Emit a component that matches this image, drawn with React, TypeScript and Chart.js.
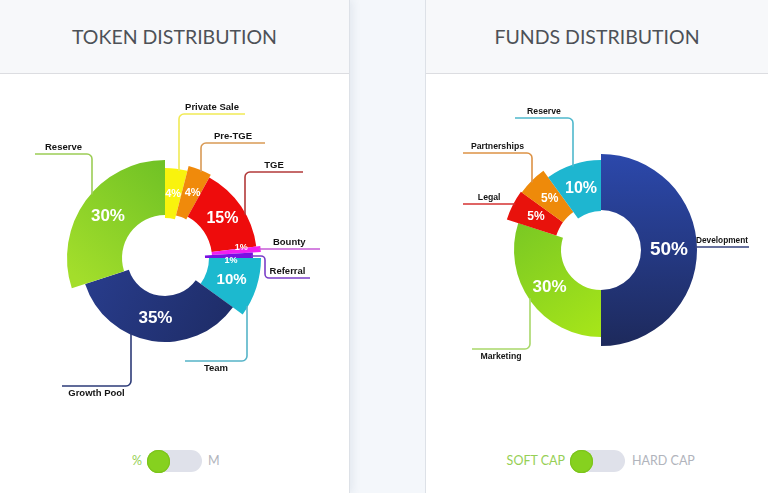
import React, { useEffect, useRef } from 'react';
import { Chart, registerables } from 'chart.js';

Chart.register(...registerables);

// ---------- data ----------
const tokenCategories = ['Private Sale', 'Pre-TGE', 'TGE', 'Bounty', 'Referral', 'Team', 'Growth Pool', 'Reserve'];
const tokenValues = [4, 4, 15, 1, 1, 10, 35, 30];

const fundsCategories = ['Development', 'Marketing', 'Legal', 'Partnerships', 'Reserve'];
const fundsValues = [50, 30, 5, 5, 10];

// ---------- styles ----------
const tokenFills = [
  ['#f9f30d', '#f9f30d'],
  ['#f08a0b', '#f08a0b'],
  ['#ee0c0c', '#ee0c0c'],
  ['#f21ff0', '#f21ff0'],
  ['#7a0fe3', '#7a0fe3'],
  ['#1cb9cf', '#1cb9cf'],
  ['#2a3f92', '#1e2c66'],
  ['#a3de2b', '#6fc125'],
];
const tokenGradDirs = [
  [0, -1, 0, 1], [0, -1, 0, 1], [0, -1, 0, 1], [0, -1, 0, 1],
  [0, -1, 0, 1], [0, -1, 0, 1], [-1, 0, 0.6, 0.9], [-1, 0.1, 0, -1],
];
const tokenRadii = [[40, 90], [44, 95], [47, 92], [47, 96], [40, 88], [44, 96], [38, 84], [43, 98]];
const tokenLabelSizes = [11, 11, 16, 9, 9, 15, 17, 17];
const tokenLabelNudges = [[0, 0], [2, 0], [0, 0], [5, -4], [2, 5], [0, 0], [0, 0], [0, 0]];
const tokenLeaderColors = ['#f1ea55', '#d99a55', '#b23a3a', '#c65ad6', '#7a3ec8', '#56b4c8', '#2d3b78', '#9ccd55'];
const tokenLeaders = [
  { kind: 'up', dx: 14, ey: -144, ex: 80, pos: 'above' },
  { kind: 'up', dx: 36, ey: -115, ex: 100, pos: 'above' },
  { kind: 'up', dx: 80, ey: -86, ex: 138, pos: 'above' },
  { kind: 'h', dy: -9, ex: 155, pos: 'above' },
  { kind: 'knee', dy: -2, kx: 100, ey: 20, ex: 145, pos: 'above' },
  { kind: 'down', dx: 82, ey: 103, ex: 20, pos: 'below' },
  { kind: 'down', dx: -34, ey: 128, ex: -103, pos: 'below' },
  { kind: 'up', dx: -73, ey: -104, ex: -130, pos: 'above' },
];

const fundsFills = [
  ['#2c49ad', '#1d295a'],
  ['#78c724', '#abe818'],
  ['#e8120c', '#e8120c'],
  ['#ee8a0a', '#ee8a0a'],
  ['#1eb6d0', '#1eb6d0'],
];
const fundsGradDirs = [[0, -1, 0, 1], [-0.9, -0.3, 0, 1], [0, -1, 0, 1], [0, -1, 0, 1], [0, -1, 0, 1]];
const fundsRadii = [[40, 96], [40, 87], [47, 99], [47, 98], [39, 90]];
const fundsLabelSizes = [19, 17, 12, 12, 16];
const fundsLabelNudges = [[0, 0], [0, 0], [0, 0], [0, 0], [0, 0]];
const fundsLeaderColors = ['#34427e', '#a9d86a', '#d43030', '#dd9245', '#4fb8cc'];
const fundsLeaders = [
  { kind: 'h', dy: -3, ex: 148, pos: 'above' },
  { kind: 'down', dx: -71, ey: 99, ex: -129, pos: 'below' },
  { kind: 'h', dy: -46, ex: -138, pos: 'above' },
  { kind: 'up', dx: -69, ey: -97, ex: -138, pos: 'above' },
  { kind: 'up', dx: -28, ey: -132, ex: -86, pos: 'above' },
];

// ---------- plugins ----------
const radiusPlugin = {
  id: 'segRadii',
  afterDatasetsUpdate(chart: any, _args: any, opts: any) {
    const meta = chart.getDatasetMeta(0);
    meta.data.forEach((arc: any, i: number) => {
      const r = opts.radii[i];
      if (r) {
        arc.innerRadius = r[0];
        arc.outerRadius = r[1];
      }
    });
  },
};

const leaderPlugin = {
  id: 'leaders',
  afterDatasetsDraw(chart: any, _args: any, opts: any) {
    const meta = chart.getDatasetMeta(0);
    const ctx: CanvasRenderingContext2D = chart.ctx;
    const labels: string[] = chart.data.labels;
    const values: number[] = chart.data.datasets[0].data;
    ctx.save();
    meta.data.forEach((arc: any, i: number) => {
      const cx = arc.x;
      const cy = arc.y;
      const R = arc.outerRadius;
      const L = opts.items[i];
      // percentage text
      const p = arc.getCenterPoint();
      const nudge = opts.nudges[i] || [0, 0];
      ctx.fillStyle = '#ffffff';
      ctx.font = `bold ${opts.sizes[i]}px "Liberation Sans", Arial, sans-serif`;
      ctx.textAlign = 'center';
      ctx.textBaseline = 'middle';
      ctx.fillText(`${values[i]}%`, p.x + nudge[0], p.y + nudge[1]);
      if (!L) return;
      // leader line
      ctx.strokeStyle = opts.colors[i];
      ctx.lineWidth = 1.6;
      ctx.beginPath();
      let hx0 = 0;
      let hy = 0;
      const xEnd = cx + L.ex;
      if (L.kind === 'up' || L.kind === 'down') {
        const x0 = cx + L.dx;
        const s = Math.sqrt(Math.max(R * R - L.dx * L.dx, 0)) - 2;
        const y0 = L.kind === 'up' ? cy - s : cy + s;
        hy = cy + L.ey;
        hx0 = x0;
        ctx.moveTo(x0, y0);
        ctx.arcTo(x0, hy, xEnd, hy, 5);
        ctx.lineTo(xEnd, hy);
      } else if (L.kind === 'h') {
        hy = cy + L.dy;
        const s = Math.sqrt(Math.max(R * R - L.dy * L.dy, 0)) - 2;
        hx0 = L.ex > 0 ? cx + s : cx - s;
        ctx.moveTo(hx0, hy);
        ctx.lineTo(xEnd, hy);
      } else if (L.kind === 'knee') {
        const y0 = cy + L.dy;
        const s = Math.sqrt(Math.max(R * R - L.dy * L.dy, 0)) - 2;
        const x0 = cx + s;
        const xk = cx + L.kx;
        hy = cy + L.ey;
        hx0 = xk;
        ctx.moveTo(x0, y0);
        ctx.arcTo(xk, y0, xk, hy, 4);
        ctx.arcTo(xk, hy, xEnd, hy, 4);
        ctx.lineTo(xEnd, hy);
      }
      ctx.stroke();
      // category label
      ctx.fillStyle = '#141414';
      ctx.font = `bold ${opts.labelSize}px "Liberation Sans", Arial, sans-serif`;
      ctx.textAlign = 'center';
      const mx = (hx0 + xEnd) / 2;
      const maxW = Math.abs(xEnd - hx0) - 2;
      if (L.pos === 'above') {
        ctx.textBaseline = 'alphabetic';
        ctx.fillText(labels[i], mx, hy - 4, maxW);
      } else {
        ctx.textBaseline = 'top';
        ctx.fillText(labels[i], mx, hy + 3, maxW);
      }
    });
    ctx.restore();
  },
};

// ---------- components ----------
type DonutProps = {
  left: number; top: number; width: number; height: number;
  padding: { left: number; right: number; top: number; bottom: number };
  labels: string[]; values: number[];
  fills: string[][]; grads: number[][]; radii: number[][];
  sizes: number[]; nudges: number[][]; labelSize: number;
  leaders: any[]; leaderColors: string[];
};

function Donut(props: DonutProps) {
  const ref = useRef<HTMLCanvasElement>(null);
  useEffect(() => {
    const { labels, values, fills, grads, radii, sizes, nudges, labelSize, leaders, leaderColors, padding } = props;
    const chart = new Chart(ref.current as HTMLCanvasElement, {
      type: 'doughnut',
      data: {
        labels,
        datasets: [
          {
            data: values,
            borderWidth: 0,
            backgroundColor: (c: any) => {
              const idx = c.dataIndex ?? 0;
              const [c1, c2] = fills[idx] || fills[0];
              const chartObj = c.chart;
              const a = chartObj.chartArea;
              if (!a || c1 === c2) return c1;
              const cx = (a.left + a.right) / 2;
              const cy = (a.top + a.bottom) / 2;
              const g = grads[idx];
              const R = 100;
              const grad = chartObj.ctx.createLinearGradient(cx + g[0] * R, cy + g[1] * R, cx + g[2] * R, cy + g[3] * R);
              grad.addColorStop(0, c1);
              grad.addColorStop(1, c2);
              return grad;
            },
          } as any,
        ],
      },
      options: {
        responsive: false,
        animation: false,
        events: [],
        radius: 100,
        cutout: 40,
        layout: { padding },
        plugins: {
          legend: { display: false },
          tooltip: { enabled: false },
          segRadii: { radii },
          leaders: { items: leaders, colors: leaderColors, sizes, nudges, labelSize },
        } as any,
      } as any,
      plugins: [radiusPlugin, leaderPlugin],
    });
    return () => chart.destroy();
  }, []);
  return (
    <canvas
      ref={ref}
      width={props.width}
      height={props.height}
      style={{ position: 'absolute', left: props.left, top: props.top, width: props.width, height: props.height }}
    />
  );
}

function Toggle({ cx, leftText, rightText, left, right }: { cx: number; leftText: string; rightText: string; left: number; right: number }) {
  return (
    <>
      <div style={{ position: 'absolute', right: 768 - left, top: 452, fontFamily: 'Lato, sans-serif', fontSize: 12.5, color: '#96cf55', lineHeight: '18px', whiteSpace: 'nowrap' }}>{leftText}</div>
      <div style={{ position: 'absolute', left: cx, top: 450, width: 55, height: 22, borderRadius: 11, background: '#dfe1ea' }} />
      <div style={{ position: 'absolute', left: cx, top: 449.5, width: 23, height: 23, borderRadius: 12, background: '#86d11f', boxShadow: '0 0 0 1px #7cc41c inset' }} />
      <div style={{ position: 'absolute', left: right, top: 452, fontFamily: 'Lato, sans-serif', fontSize: 12.5, color: '#b1b4bc', lineHeight: '18px', whiteSpace: 'nowrap' }}>{rightText}</div>
    </>
  );
}

export default function App() {
  useEffect(() => {
    document.body.style.margin = '0';
  }, []);
  const header: React.CSSProperties = {
    position: 'absolute', top: 0, height: 73, background: '#f7f8fa', borderBottom: '1px solid #dcdde1',
    display: 'flex', alignItems: 'center', justifyContent: 'center',
    fontFamily: 'Lato, sans-serif', fontSize: 19.5, color: '#4d5157', letterSpacing: 0,
  };
  return (
    <div style={{ position: 'fixed', left: 0, top: 0, width: 768, height: 493, overflow: 'hidden', background: '#f4f7fb' }}>
      {/* card 1 */}
      <div style={{ position: 'absolute', left: 0, top: 0, width: 349, height: 493, background: '#ffffff', borderRight: '1px solid #dde1e7', boxShadow: '3px 0 8px rgba(40,60,100,0.08)' }} />
      <div style={{ ...header, left: 0, width: 349 }}>TOKEN DISTRIBUTION</div>
      {/* card 2 */}
      <div style={{ position: 'absolute', left: 425, top: 0, width: 343, height: 493, background: '#ffffff', borderLeft: '1px solid #dde1e7' }} />
      <div style={{ ...header, left: 426, width: 342 }}>FUNDS DISTRIBUTION</div>

      <Donut
        left={0} top={74} width={330} height={368}
        padding={{ left: 0, right: 0, top: 0, bottom: 0 }}
        labels={tokenCategories} values={tokenValues}
        fills={tokenFills} grads={tokenGradDirs} radii={tokenRadii}
        sizes={tokenLabelSizes} nudges={tokenLabelNudges} labelSize={9.5}
        leaders={tokenLeaders} leaderColors={tokenLeaderColors}
      />
      <Donut
        left={426} top={74} width={342} height={366}
        padding={{ left: 8, right: 0, top: 0, bottom: 14 }}
        labels={fundsCategories} values={fundsValues}
        fills={fundsFills} grads={fundsGradDirs} radii={fundsRadii}
        sizes={fundsLabelSizes} nudges={fundsLabelNudges} labelSize={8.7}
        leaders={fundsLeaders} leaderColors={fundsLeaderColors}
      />

      <Toggle cx={147} left={142} right={208} leftText="%" rightText="M" />
      <Toggle cx={570} left={565} right={632} leftText="SOFT CAP" rightText="HARD CAP" />
    </div>
  );
}
